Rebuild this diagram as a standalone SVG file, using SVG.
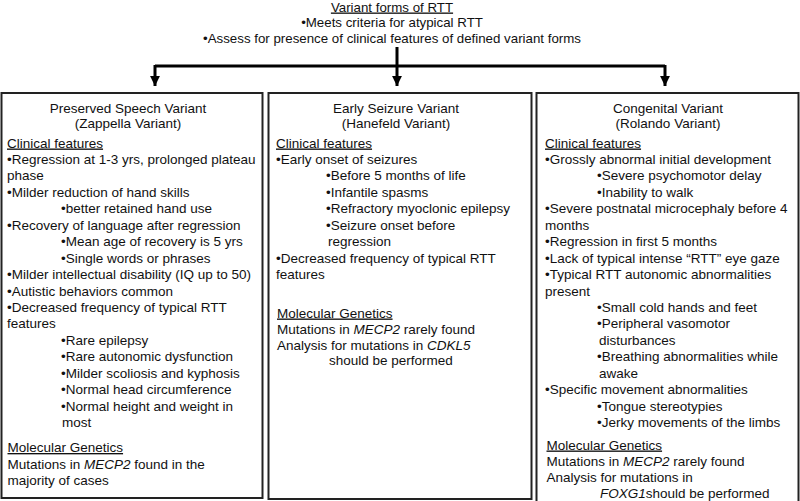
<svg xmlns="http://www.w3.org/2000/svg" width="800" height="501" viewBox="0 0 800 501">
<style>
text{font-family:"Liberation Sans",Arial,sans-serif;font-size:13.5px;fill:#111}
.top{font-size:13.3px}
.c{text-anchor:middle}
.u{text-decoration:underline}
.box{fill:#fff;stroke:#222;stroke-width:2}
.conn{stroke:#000;stroke-width:3;fill:none}
.i{font-style:italic}
</style>
<defs>
<marker id="ah" viewBox="0 0 10 10" refX="10" refY="5" markerWidth="3.3" markerHeight="3.3" markerUnits="strokeWidth" orient="auto">
<path d="M0,0 L10,5 L0,10 Z" fill="#000"/>
</marker>
</defs>
<rect width="800" height="501" fill="#fff"/>
<g id="header">
<text class="top c u" x="392" y="11.5">Variant forms of RTT</text>
<text class="top c" x="392" y="26.5">•Meets criteria for atypical RTT</text>
<text class="top c" x="392" y="42.5">•Assess for presence of clinical features of defined variant forms</text>
</g>
<g id="connectors">
<path class="conn" d="M397,47 V66 M155,66 H665"/>
<path class="conn" d="M155,65 V86" marker-end="url(#ah)"/>
<path class="conn" d="M397,66 V86" marker-end="url(#ah)"/>
<path class="conn" d="M665,65 V86" marker-end="url(#ah)"/>
</g>
<g id="preserved-speech">
<rect class="box" x="1.5" y="93" width="261" height="405"/>
<text class="c" x="128" y="112.5">Preserved Speech Variant</text>
<text class="c" x="128" y="128">(Zappella Variant)</text>
<text class="u" x="7" y="147.5">Clinical features</text>
<text x="7" y="164">•Regression at 1-3 yrs, prolonged plateau</text>
<text x="7" y="180.4">phase</text>
<text x="7" y="196.9">•Milder reduction of hand skills</text>
<text x="61" y="213.3">•better retained hand use</text>
<text x="7" y="229.8">•Recovery of language after regression</text>
<text x="61" y="246.2">•Mean age of recovery is 5 yrs</text>
<text x="61" y="262.6">•Single words or phrases</text>
<text x="7" y="279.1">•Milder intellectual disability (IQ up to 50)</text>
<text x="7" y="295.5">•Autistic behaviors common</text>
<text x="7" y="312">•Decreased frequency of typical RTT</text>
<text x="7" y="328.4">features</text>
<text x="61" y="344.8">•Rare epilepsy</text>
<text x="61" y="361.3">•Rare autonomic dysfunction</text>
<text x="61" y="377.7">•Milder scoliosis and kyphosis</text>
<text x="61" y="394.2">•Normal head circumference</text>
<text x="61" y="410.6">•Normal height and weight in</text>
<text x="62" y="427">most</text>
<text class="u" x="7.5" y="452">Molecular Genetics</text>
<text x="7.5" y="468.5">Mutations in <tspan class="i">MECP2</tspan> found in the</text>
<text x="7.5" y="484.5">majority of cases</text>
</g>
<g id="early-seizure">
<rect class="box" x="268.5" y="93" width="263" height="406"/>
<text class="c" x="396" y="112.5">Early Seizure Variant</text>
<text class="c" x="396" y="128">(Hanefeld Variant)</text>
<text class="u" x="276" y="147.5">Clinical features</text>
<text x="276" y="164">•Early onset of seizures</text>
<text x="326" y="180.4">•Before 5 months of life</text>
<text x="326" y="196.9">•Infantile spasms</text>
<text x="326" y="213.3">•Refractory myoclonic epilepsy</text>
<text x="326" y="229.8">•Seizure onset before</text>
<text x="328" y="246.2">regression</text>
<text x="276" y="262.6">•Decreased frequency of typical RTT</text>
<text x="276" y="279.1">features</text>
<text class="u" x="277" y="317.5">Molecular Genetics</text>
<text x="277" y="333.5">Mutations in <tspan class="i">MECP2</tspan> rarely found</text>
<text x="277" y="349.5">Analysis for mutations in <tspan class="i">CDKL5</tspan></text>
<text x="329" y="364.5">should be performed</text>
</g>
<g id="congenital">
<rect class="box" x="536.5" y="93" width="262" height="412"/>
<text class="c" x="668" y="112.5">Congenital Variant</text>
<text class="c" x="668" y="128">(Rolando Variant)</text>
<text class="u" x="545" y="147.5">Clinical features</text>
<text x="545" y="164">•Grossly abnormal initial development</text>
<text x="597" y="180.4">•Severe psychomotor delay</text>
<text x="597" y="196.9">•Inability to walk</text>
<text x="545" y="213.3">•Severe postnatal microcephaly before 4</text>
<text x="545" y="229.8">months</text>
<text x="545" y="246.2">•Regression in first 5 months</text>
<text x="545" y="262.6">•Lack of typical intense “RTT” eye gaze</text>
<text x="545" y="279.1">•Typical RTT autonomic abnormalities</text>
<text x="545" y="295.5">present</text>
<text x="597" y="312">•Small cold hands and feet</text>
<text x="597" y="328.4">•Peripheral vasomotor</text>
<text x="599" y="344.8">disturbances</text>
<text x="597" y="361.3">•Breathing abnormalities while</text>
<text x="599" y="377.7">awake</text>
<text x="545" y="394.2">•Specific movement abnormalities</text>
<text x="597" y="410.6">•Tongue stereotypies</text>
<text x="597" y="427">•Jerky movements of the limbs</text>
<text class="u" x="546.5" y="449.5">Molecular Genetics</text>
<text x="546.5" y="466">Mutations in <tspan class="i">MECP2</tspan> rarely found</text>
<text x="546.5" y="482">Analysis for mutations in</text>
<text x="600" y="497.5"><tspan class="i">FOXG1</tspan>should be performed</text>
</g>
</svg>
